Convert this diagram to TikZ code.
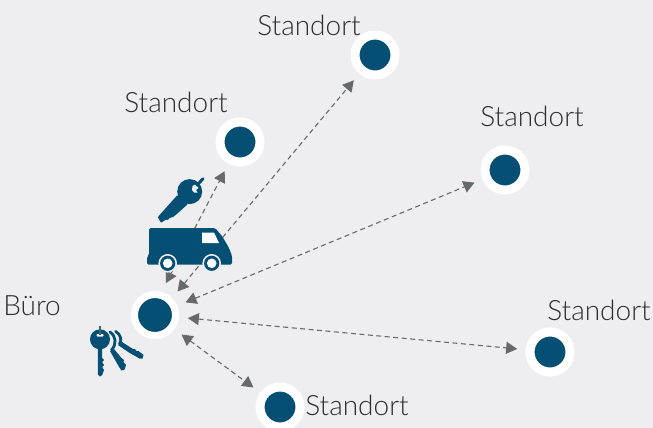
\documentclass[tikz,border=0pt]{standalone}
\usepackage{fontspec}
\setmainfont{Lato-Light}
\usetikzlibrary{arrows.meta}
\definecolor{bgc}{HTML}{EEEEF1}
\definecolor{bluec}{HTML}{044F73}
\definecolor{arrowc}{HTML}{666A6C}
\definecolor{textc}{HTML}{2E2E2E}
\tikzset{
  site/.style={circle,fill=bluec,draw=white,line width=9pt,minimum size=40pt,inner sep=0pt,outer sep=13pt},
  office/.style={circle,fill=bluec,draw=white,line width=7pt,minimum size=41pt,inner sep=0pt,outer sep=12.5pt},
  label/.style={text=textc,font=\fontsize{28}{28}\selectfont,inner sep=0pt},
  link/.style={draw=arrowc,line width=1.1pt,dash pattern=on 5pt off 3.5pt,{Triangle[length=11pt,width=12pt,fill=arrowc]}-{Triangle[length=11pt,width=12pt,fill=arrowc]}},
  icon/.style={fill=bluec,draw=none}
}
\begin{document}
\begin{tikzpicture}[x=1pt,y=-1pt]
\useasboundingbox (0,0) rectangle (653,428);
\clip (0,0) rectangle (653,428);
\fill[bgc] (0,0) rectangle (653,428);
\node[office] (buero) at (155,315) {};
\node[site] (s1) at (375,55) {};
\node[site] (s2) at (240,142) {};
\node[site] (s3) at (505,170) {};
\node[site] (s4) at (550,352) {};
\node[site] (s5) at (280,407) {};
\node[label] (l1) at (309,25) {Standort};
\node[label] (l2) at (176,102) {Standort};
\node[label] (l3) at (532,116) {Standort};
\node[label] (l4) at (599,310) {Standort};
\node[label] (l5) at (357,405) {Standort};
\node[label] (l0) at (32,306) {Büro};
\coordinate (b1) at (177.5,291.5);
\coordinate (b2) at (166,283);
\draw[link] (b1) -- (s1);
\draw[link] (b2) -- (s2);
\draw[link] (buero) -- (s3);
\draw[link] (buero) -- (s4);
\draw[link] (buero) -- (s5);
% van
\fill[icon,rounded corners=1.5pt] (149,228) -- (215,228) -- (222,236) -- (229,248) -- (232,256) -- (232,264.5) -- (147,264.5) -- (147,257) -- (149,255) -- cycle;
\fill[white] (202,232.5) -- (214,232.5) -- (219,243) -- (202,243) -- cycle;
\foreach \wx in {167.7,211.7}{
  \fill[bgc] (\wx,263.3) circle (9.3pt);
  \fill[bluec] (\wx,263.3) circle (7.6pt);
  \fill[white] (\wx,263.3) circle (4.8pt);
}
% big key
\fill[icon] (189.7,191.6) circle (12.5pt);
\fill[icon,rounded corners=0.8pt] (177.5,195) -- (188,204) -- (174.5,216) -- (172,217.5) -- (170,217.5) -- (168,220) -- (166,219.5) -- (161,222.9) -- (157.8,217) -- cycle;
\fill[bgc] (192.5,186) -- (195,184.5) -- (198.5,188) -- (196,190) -- (197.5,192.5) -- (194,192.5) -- (192,190) -- cycle;
\draw[bluec,line width=3pt,line cap=round] (197,185) -- (203,178.8);
% key bunch
\fill[icon] (100,339.3) circle (10pt);
\fill[bgc,rounded corners=0.8pt] (96.5,334) rectangle (103.5,336.5);
\draw[arrowc!70!bluec,line width=2.5pt] (100,326) -- (100,335);
\fill[icon] (97.8,347) -- (102.2,347) -- (102.2,358) -- (104,360) -- (102.2,362) -- (104,365) -- (102.2,367) -- (104,370) -- (102.2,375) -- (100,376.5) -- (97.8,374.5) -- cycle;
\draw[bluec,line width=2.8pt,line cap=round] (110,332) .. controls (116,336) and (117,344) .. (111.5,350);
\draw[bluec,line width=2.8pt,line cap=round] (115.7,331.3) .. controls (121,335) and (122,340) .. (119.5,344);
\fill[icon] (110,351) -- (114,349) -- (121.5,358) -- (124,360) -- (123.5,362) -- (126,365) -- (124.5,369.5) -- (121.5,370.5) -- (118.5,366) -- cycle;
\fill[icon] (118,345) -- (122,342) -- (133,349) -- (135,349) -- (136.5,351) -- (138.5,351) -- (143.5,355) -- (142.5,358.5) -- (139.5,358.5) -- (129,352.5) -- cycle;
\end{tikzpicture}
\end{document}
